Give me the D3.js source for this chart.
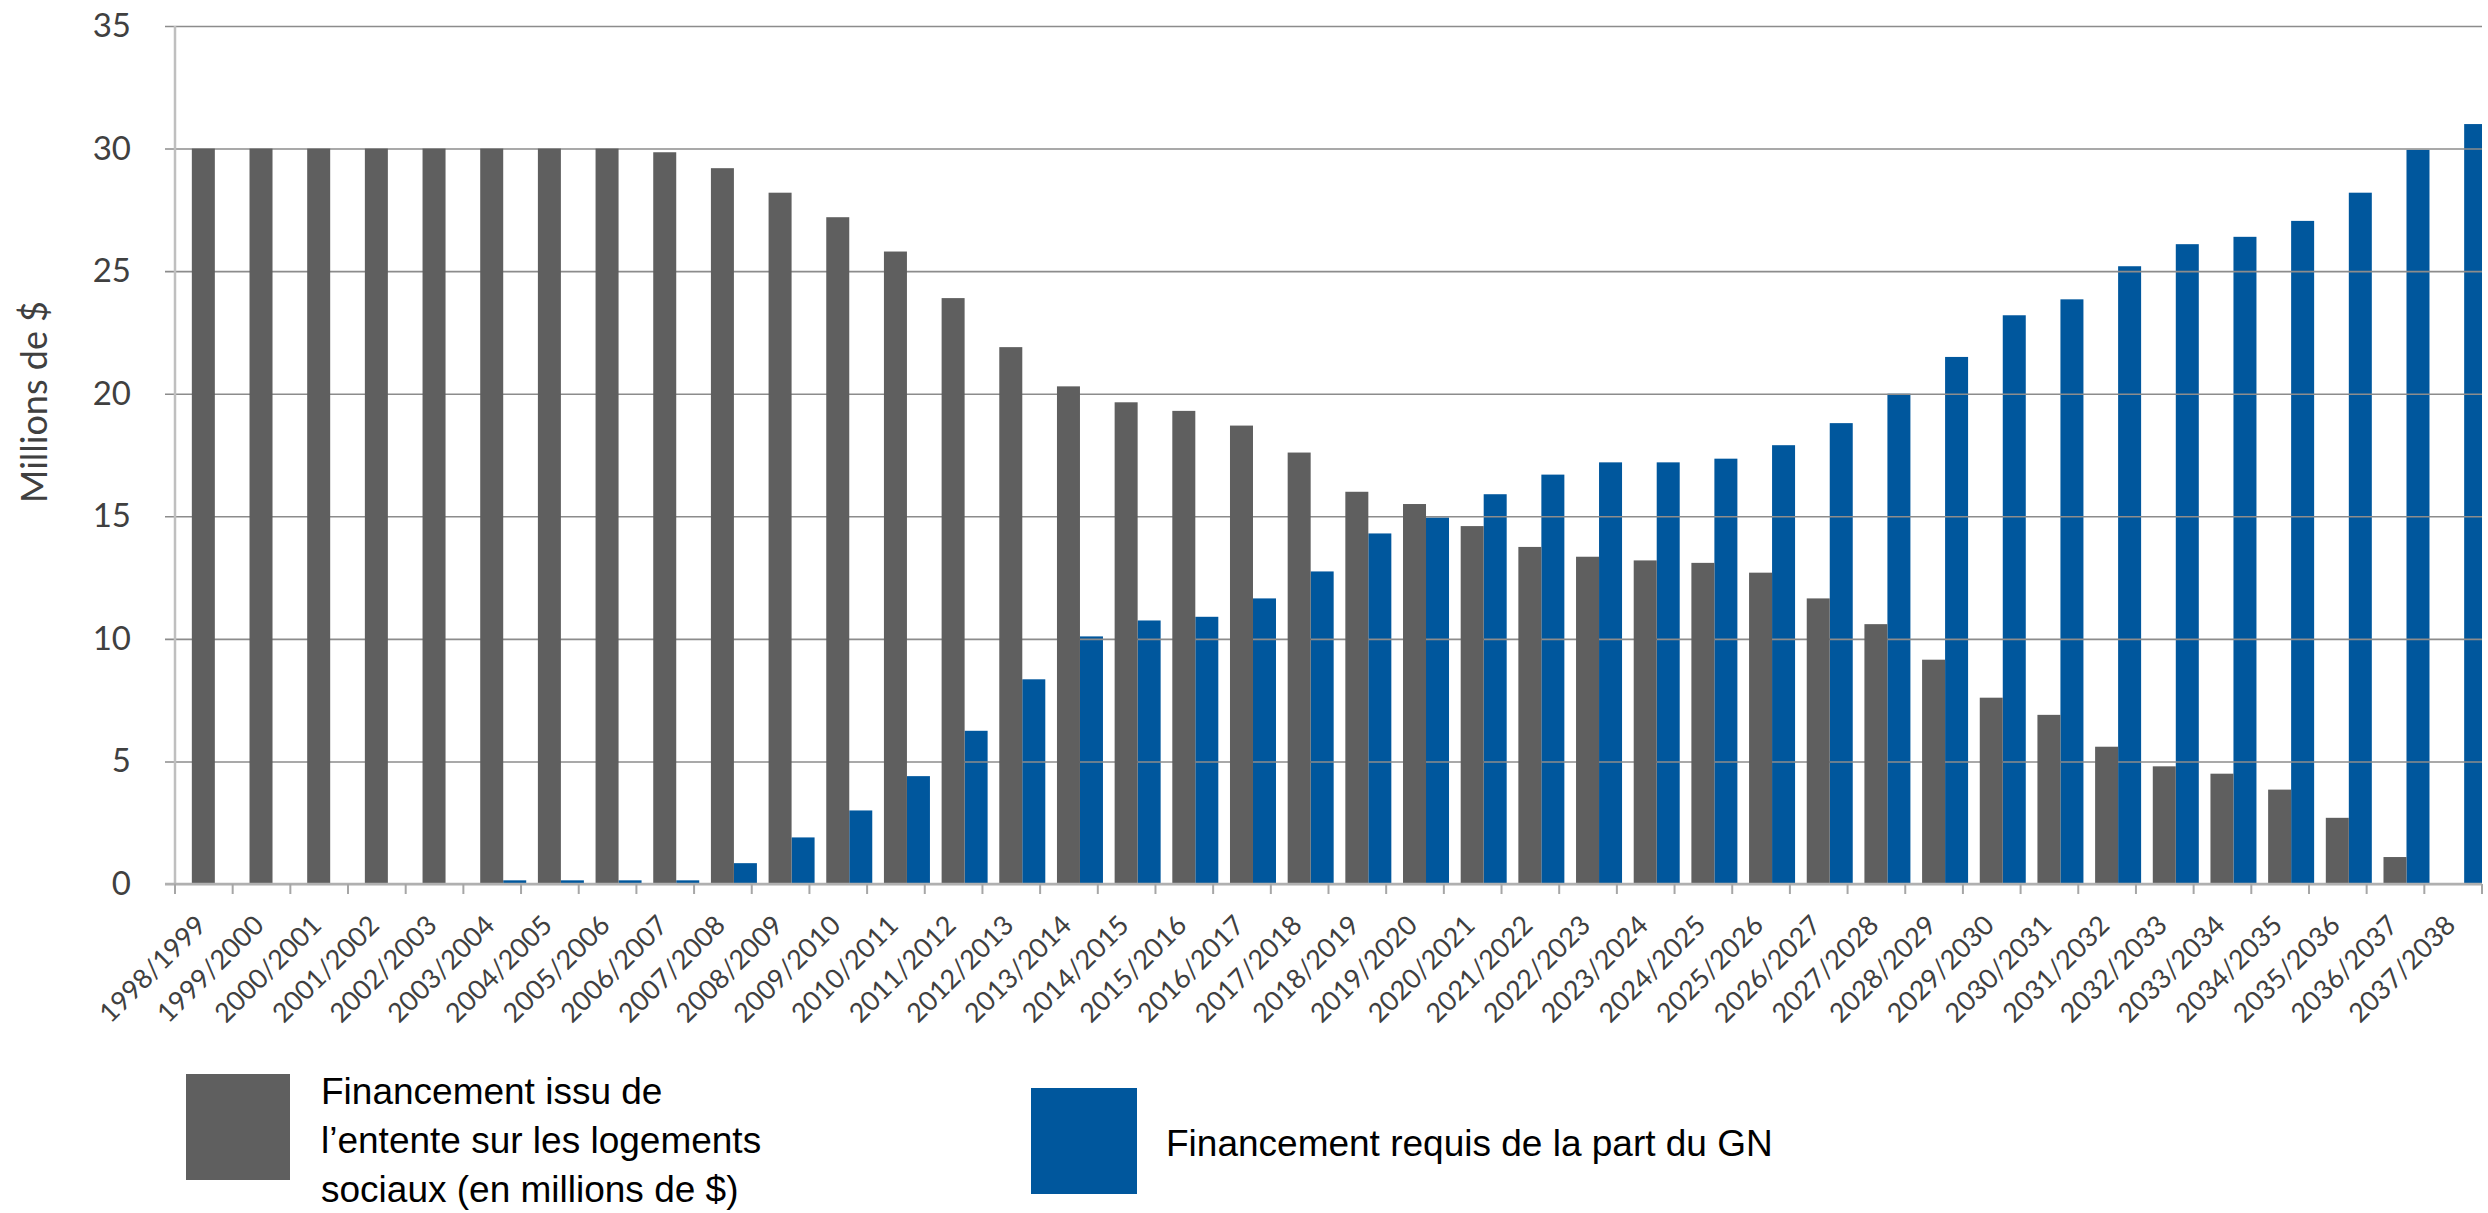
<!DOCTYPE html>
<html>
<head>
<meta charset="utf-8">
<script src="https://cdn.jsdelivr.net/npm/d3@7"></script>
<style>
    body { margin: 0; background: #fff; }
    #chart svg { display: block; }
</style>
</head>
<body>
<div id="chart"></div>
<script>
// exercices financiers
let years = [
    '1998/1999', '1999/2000', '2000/2001', '2001/2002', '2002/2003', '2003/2004', '2004/2005', '2005/2006',
    '2006/2007', '2007/2008', '2008/2009', '2009/2010', '2010/2011', '2011/2012', '2012/2013', '2013/2014',
    '2014/2015', '2015/2016', '2016/2017', '2017/2018', '2018/2019', '2019/2020', '2020/2021', '2021/2022',
    '2022/2023', '2023/2024', '2024/2025', '2025/2026', '2026/2027', '2027/2028', '2028/2029', '2029/2030',
    '2030/2031', '2031/2032', '2032/2033', '2033/2034', '2034/2035', '2035/2036', '2036/2037', '2037/2038'
];

// Financement issu de l'entente (millions de $)
let entente = [
    30.0, 30.0, 30.0, 30.0, 30.0, 30.0, 30.0, 30.0,
    29.85, 29.2, 28.2, 27.2, 25.8, 23.9, 21.9, 20.3,
    19.65, 19.3, 18.7, 17.6, 16.0, 15.5, 14.6, 13.75,
    13.35, 13.2, 13.1, 12.7, 11.65, 10.6, 9.15, 7.6,
    6.9, 5.6, 4.8, 4.5, 3.85, 2.7, 1.1, 0
];

// Financement requis de la part du GN (millions de $)
let requis = [
    0, 0, 0, 0, 0, 0.15, 0.15, 0.15,
    0.15, 0.85, 1.9, 3.0, 4.4, 6.25, 8.35, 10.1,
    10.75, 10.9, 11.65, 12.75, 14.3, 14.95, 15.9, 16.7,
    17.2, 17.2, 17.35, 17.9, 18.8, 20.0, 21.5, 23.2,
    23.85, 25.2, 26.1, 26.4, 27.05, 28.2, 29.95, 31.0
];

let yTicks = [0, 5, 10, 15, 20, 25, 30, 35];

let legendGray = ['Financement issu de', 'l\u2019entente sur les logements', 'sociaux (en millions de $)'];
let legendBlue = ['Financement requis de la part du GN'];

let colors = { gray: '#5f5f5f', blue: '#00579d' };
let [width, height] = [2488, 1213];
let plot = { left: 175, right: 2482, top: 26, bottom: 884 };

let svg = d3.select('#chart').append('svg')
    .attr('width', width)
    .attr('height', height);

let x = d3.scaleBand()
    .domain(years)
    .range([plot.left, plot.right])
    .padding(0);

let y = d3.scaleLinear()
    .domain([0, 35])
    .range([plot.bottom, plot.top]);

let barW = 23;

svg.append('clipPath').attr('id', 'plotClip')
    .append('rect')
    .attr('x', plot.left).attr('y', 0)
    .attr('width', plot.right - plot.left).attr('height', plot.bottom);

// barres bleues (sous le quadrillage, comme dans l'original)
svg.append('g')
    .attr('clip-path', 'url(#plotClip)')
    .selectAll('rect')
    .data(years)
    .join('rect')
    .attr('x', (d) => x(d) + x.bandwidth() / 2 + barW / 2 - 0.5)
    .attr('y', (d, i) => y(requis[i]))
    .attr('width', barW)
    .attr('height', (d, i) => y(0) - y(requis[i]))
    .attr('fill', colors.blue);

// quadrillage + axe Y
let gridW = plot.right - plot.left + 10;
let yAxis = d3.axisLeft(y)
    .tickValues(yTicks)
    .tickSize(0)
    .tickFormat(d3.format('d'));

let gy = svg.append('g')
    .attr('transform', `translate(${plot.left - 10},0)`)
    .call(yAxis);
gy.select('.domain').remove();
gy.selectAll('.tick line')
    .attr('x1', 0)
    .attr('x2', gridW)
    .attr('stroke', '#8c8c8c')
    .attr('stroke-width', 1.6);
gy.selectAll('.tick text')
    .attr('x', -34)
    .attr('fill', '#404040')
    .style('font-family', 'Lato, "Open Sans", sans-serif')
    .style('font-size', '33px');

// barres grises
svg.append('g')
    .selectAll('rect')
    .data(years)
    .join('rect')
    .attr('x', (d) => x(d) + x.bandwidth() / 2 - barW / 2 - 0.5)
    .attr('y', (d, i) => y(entente[i]))
    .attr('width', barW)
    .attr('height', (d, i) => y(0) - y(entente[i]))
    .attr('fill', colors.gray);

// axe vertical
svg.append('line')
    .attr('x1', plot.left).attr('x2', plot.left)
    .attr('y1', plot.top).attr('y2', plot.bottom)
    .attr('stroke', '#bfbfbf')
    .attr('stroke-width', 2.5);

// axe X : ligne, graduations entre les catégories, étiquettes inclinées
let gx = svg.append('g').attr('class', 'x-axis');
gx.append('line')
    .attr('x1', plot.left - 10).attr('x2', plot.right)
    .attr('y1', plot.bottom).attr('y2', plot.bottom)
    .attr('stroke', '#b0b0b0')
    .attr('stroke-width', 2.5);

let bounds = years.map((d) => x(d)).concat([plot.right]);
gx.selectAll('line.tk')
    .data(bounds)
    .join('line')
    .attr('class', 'tk')
    .attr('x1', (d) => d).attr('x2', (d) => d)
    .attr('y1', plot.bottom).attr('y2', plot.bottom + 10)
    .attr('stroke', '#a6a6a6')
    .attr('stroke-width', 2);

gx.selectAll('text')
    .data(years)
    .join('text')
    .attr('transform', (d) => `translate(${x(d) + x.bandwidth() / 2 + 4},${plot.bottom + 43}) rotate(-45)`)
    .attr('text-anchor', 'end')
    .attr('fill', '#404040')
    .style('font-family', 'Lato, "Open Sans", sans-serif')
    .style('font-size', '27px')
    .text((d) => d);

// titre de l'axe Y
svg.append('text')
    .attr('transform', 'translate(47,402) rotate(-90)')
    .attr('text-anchor', 'middle')
    .attr('fill', '#404040')
    .style('font-family', 'Lato, "Open Sans", sans-serif')
    .style('font-size', '36px')
    .text('Millions de $');

// légende
let legend = svg.append('g')
    .style('font-family', '"Liberation Sans", Arial, sans-serif')
    .style('font-size', '37px')
    .attr('fill', '#000');

legend.append('rect')
    .attr('x', 186).attr('y', 1074)
    .attr('width', 104).attr('height', 106)
    .attr('fill', colors.gray);
legend.append('text')
    .selectAll('tspan')
    .data(legendGray)
    .join('tspan')
    .attr('x', 321)
    .attr('y', (d, i) => 1104 + i * 49)
    .text((d) => d);

legend.append('rect')
    .attr('x', 1031).attr('y', 1088)
    .attr('width', 106).attr('height', 106)
    .attr('fill', colors.blue);
legend.append('text')
    .attr('x', 1166)
    .attr('y', 1156)
    .text(legendBlue[0]);
</script>
</body>
</html>
